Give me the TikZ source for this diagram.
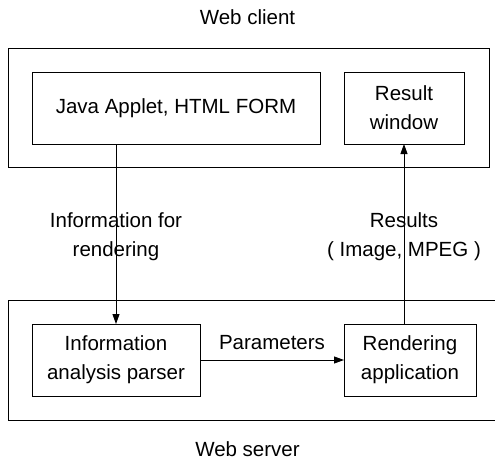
\documentclass[tikz,border=0pt]{standalone}
\usepackage{fontspec}
\setmainfont{Liberation Sans}
\usetikzlibrary{arrows.meta}
\begin{document}
\begin{tikzpicture}[x=1pt,y=-1pt,
  every node/.style={font=\fontsize{20.5}{29}\selectfont, inner sep=0pt, outer sep=0pt},
  box/.style={draw, line width=0.9pt, minimum height=72pt, align=center},
  frame/.style={draw, line width=0.9pt},
  lbl/.style={align=center},
  conn/.style={line width=0.9pt, -{Triangle[length=10pt,width=7pt]}}]
\clip (0,0) rectangle (495,460);
\useasboundingbox (0,0) rectangle (495,460);
% outer frames
\node[frame, minimum width=481pt, minimum height=119pt] (client) at (248.5,107.5) {};
\node[frame, minimum width=500pt, minimum height=120pt] (server) at (258,360) {};
% inner boxes
\node[box, minimum width=288pt] (java) at (176,108) {Java Applet, HTML FORM};
\node[box, minimum width=120pt] (result) at (404,108) {Result\\window};
\node[box, minimum width=168pt] (parser) at (116,360) {Information\\analysis parser};
\node[box, minimum width=132pt] (render) at (410,360) {Rendering\\application};
% titles
\node (tclient) at (247.5,17) {Web client};
\node (tserver) at (247.5,449) {Web server};
% labels
\node[lbl] (linfo) at (116,237) {Information for\\rendering};
\node[lbl] (lres) at (404,237) {Results\\( Image, MPEG )};
% connectors
\draw[conn] (parser.north |- java.south) -- (parser.north);
\draw[conn] (result.south |- render.north) -- (result.south);
\draw[conn] (parser.east) -- node[above=10pt] (lparam) {Parameters} (render.west);
\end{tikzpicture}
\end{document}
